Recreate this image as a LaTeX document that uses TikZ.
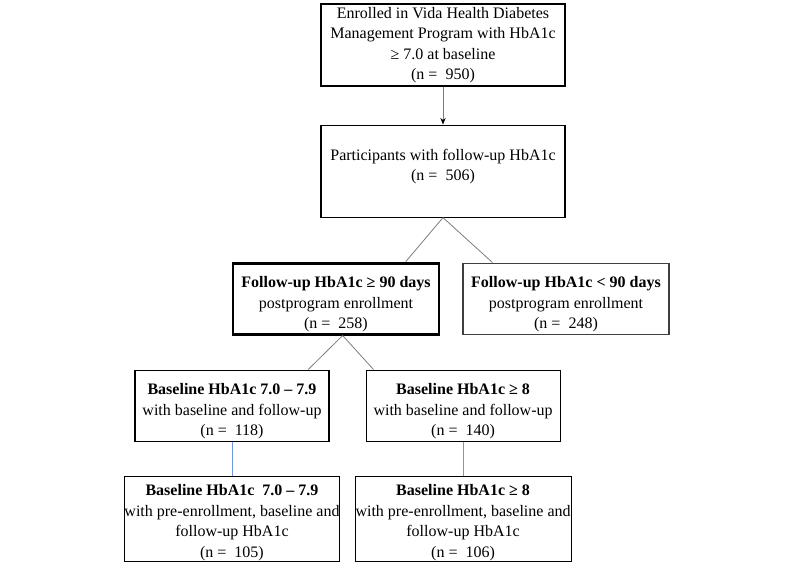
\documentclass[tikz,border=0pt]{standalone}
\usepackage{fontspec}
\setmainfont{Liberation Serif}
\usetikzlibrary{positioning, arrows.meta}
\definecolor{linkgray}{RGB}{125, 125, 125}
\definecolor{linkblue}{RGB}{110, 150, 225}
% Invisible strut to nudge box text up or down
\newcommand{\boxpad}[2]{\rule[-#2]{0pt}{#1}}

\begin{document}
\begin{tikzpicture}[
    box/.style={ % Style for flow boxes, takes minimum width as argument
        rectangle,
        draw=black,
        line width=0.8pt,
        align=center,
        inner xsep=2pt,
        inner ysep=1pt,
        minimum height=53.25pt,
        font=\fontsize{12}{15.4}\selectfont,
        minimum width=#1
    },
    box/.default=154.5pt,
    % Highlighted box with a heavy border
    keybox/.style={box=#1, line width=2.2pt},
    keybox/.default=154.5pt,
    % Connector styles
    link/.style={draw=#1, line width=0.6pt},
    link/.default=linkgray,
    arrow/.style={link, -{Stealth[length=5pt, width=4pt, black]}}
]

\useasboundingbox (0,0) rectangle (600pt,-423pt);

% Enrollment and follow-up
\node[box=183pt, minimum height=61.5pt] (enrolled) at (332.25pt,-33.75pt)
    {Enrolled in Vida Health Diabetes\\Management Program with HbA1c\\≥ 7.0 at baseline\\(n =~ 950)};
\node[box=183pt, minimum height=69pt] (followup) [below=28.5pt of enrolled]
    {Participants with follow-up HbA1c\\(n =~ 506)\boxpad{0pt}{9pt}};

% Split by follow-up timing
\node[keybox] (ge90) [below=33pt of followup, xshift=-80.25pt]
    {\boxpad{17pt}{0pt}\textbf{Follow-up HbA1c ≥ 90 days}\\postprogram enrollment\\(n =~ 258)};
\node[box, draw=black!75] (lt90) [right=16.5pt of ge90]
    {\boxpad{17pt}{0pt}\textbf{Follow-up HbA1c < 90 days}\\postprogram enrollment\\(n =~ 248)};

% Split by baseline HbA1c
\node[box=145.5pt] (base7) [below=25.5pt of ge90, xshift=-78pt]
    {\boxpad{17pt}{0pt}\textbf{Baseline HbA1c 7.0 – 7.9}\\with baseline and follow-up\\(n =~ 118)};
\node[box=145.5pt] (base8) [right=27pt of base7]
    {\boxpad{17pt}{0pt}\textbf{Baseline HbA1c ≥ 8}\\with baseline and follow-up\\(n =~ 140)};

% Subsets with pre-enrollment values
\node[box=160pt, inner sep=0pt, minimum height=64pt] (pre7) [below=25.5pt of base7]
    {\boxpad{14pt}{0pt}\textbf{Baseline HbA1c~ 7.0 – 7.9}\\with pre-enrollment, baseline and\\follow-up HbA1c\\(n =~ 105)};
\node[box=162pt, inner sep=0pt, minimum height=64pt] (pre8) [below=25.5pt of base8]
    {\boxpad{14pt}{0pt}\textbf{Baseline HbA1c ≥ 8}\\with pre-enrollment, baseline and\\follow-up HbA1c\\(n =~ 106)};

% Connectors
\draw[arrow] (enrolled) -- (followup);
\draw[link] (followup.south) -- ([xshift=-26pt]ge90.north east);
\draw[link] (followup.south) -- ([xshift=22.5pt]lt90.north west);
\draw[link] ([xshift=5pt]ge90.south) -- ([xshift=-16pt]base7.north east);
\draw[link] ([xshift=5pt]ge90.south) -- ([xshift=6pt]base8.north west);
\draw[link=linkblue] (base7) -- (pre7);
\draw[link=linkblue] (base8) -- (pre8);

\end{tikzpicture}
\end{document}
